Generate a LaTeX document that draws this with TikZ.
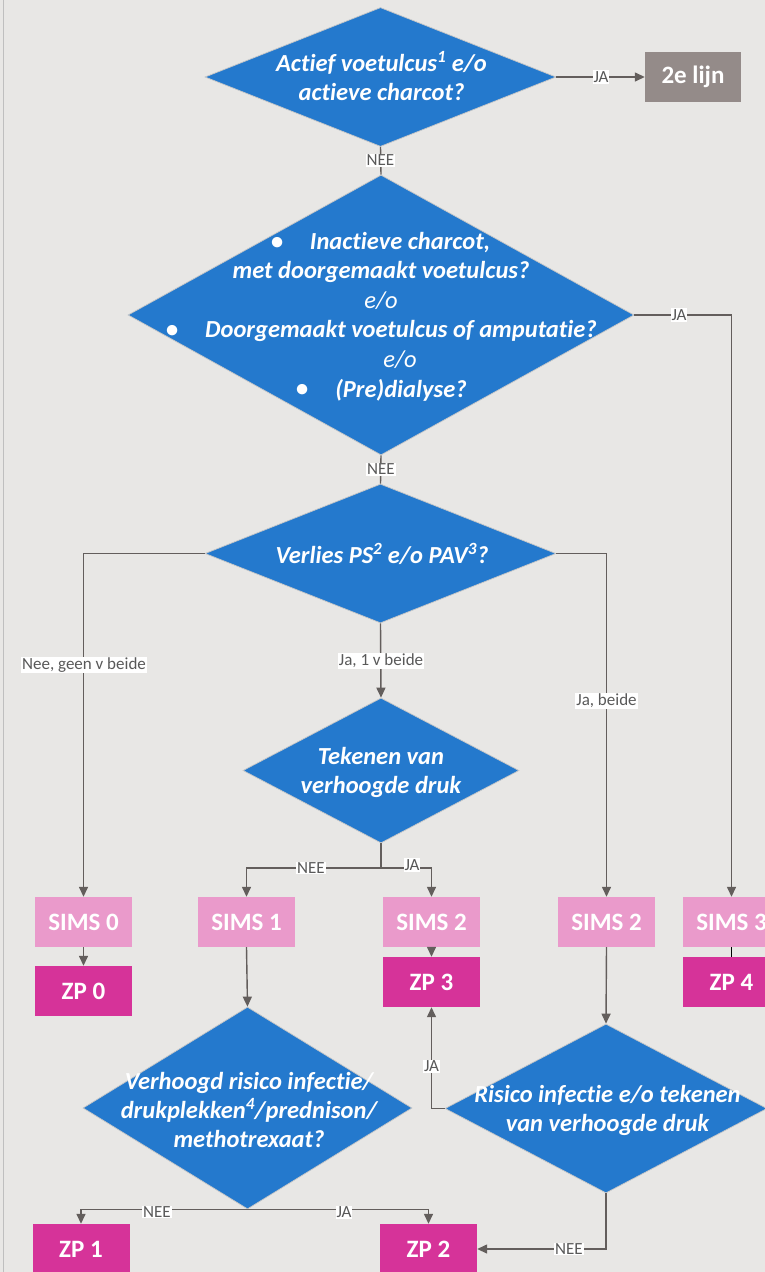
\documentclass[tikz,border=0pt]{standalone}
\usepackage{fontspec}
\setmainfont{Carlito}[Ligatures={NoCommon}]
\usetikzlibrary{arrows.meta,shapes.geometric}
\definecolor{bgc}{HTML}{E8E7E5}
\definecolor{diablue}{HTML}{2479CD}
\definecolor{simspink}{HTML}{EA9ACB}
\definecolor{zpmag}{HTML}{D63399}
\definecolor{lijngray}{HTML}{948B89}
\definecolor{linec}{HTML}{635E5C}
\definecolor{lblc}{HTML}{595959}
\tikzset{
  dia/.style={diamond, fill=diablue, draw=black!22, line width=0.7pt, inner sep=0pt, aspect=1},
  dtext/.style={text=white, font=\fontsize{24.5}{29}\selectfont\bfseries\itshape, align=center, inner sep=0pt},
  dplain/.style={text=white, font=\fontsize{24.5}{29}\selectfont\itshape, inner sep=0pt},
  simsbox/.style={rectangle, fill=simspink, minimum width=97, minimum height=50, text=white, font=\fontsize{25}{28}\selectfont\bfseries},
  zpbox/.style={rectangle, fill=zpmag, minimum width=97, minimum height=50, text=white, font=\fontsize{25}{28}\selectfont\bfseries},
  conn/.style={draw=linec, line width=1.4pt, -{Triangle[length=10pt,width=9pt]}},
  plain/.style={draw=linec, line width=1.4pt},
  lbl/.style={fill=white, text=lblc, font=\fontsize{17}{18}\selectfont, inner sep=1pt},
}
\begin{document}
\begin{tikzpicture}[x=1pt,y=-1pt]
\useasboundingbox (0,0) rectangle (765,1272);
\fill[bgc] (0,0) rectangle (765,1272);
\draw[black!25, line width=1pt] (3.5,0) -- (3.5,1272);

% diamonds
\node[dia, minimum width=351, minimum height=139] (d1) at (380.5,77) {};
\node[dtext] (t1) at (381.5,76) {Actief voetulcus\textsuperscript{1} e/o\\actieve charcot?};

\node[rectangle, fill=lijngray, minimum width=96, minimum height=50, text=white, font=\fontsize{25}{28}\selectfont\bfseries] (lijn) at (693,77) {2e lijn};

\node[dia, minimum width=506, minimum height=280] (d2) at (381,315) {};
\node[dtext] (b1) at (277,243) {\textbullet};
\node[dtext] (t2a) at (400,243) {Inactieve charcot,};
\node[dtext] (t2b) at (381,272) {met doorgemaakt voetulcus?};
\node[dplain] (t2c) at (381,301) {e/o};
\node[dtext] (b2) at (172,331) {\textbullet};
\node[dtext] (t2d) at (401,331) {Doorgemaakt voetulcus of amputatie?};
\node[dplain] (t2e) at (400,360) {e/o};
\node[dtext] (b3) at (302,390) {\textbullet};
\node[dtext] (t2f) at (401,390) {(Pre)dialyse?};

\node[dia, minimum width=351, minimum height=139] (d3) at (380.5,553.5) {};
\node[dtext] (t3) at (382,553.5) {Verlies PS\textsuperscript{2} e/o PAV\textsuperscript{3}?};

\node[dia, minimum width=276, minimum height=145] (d4) at (381,770.5) {};
\node[dtext] (t4) at (381,772) {Tekenen van\\verhoogde druk};

\node[dia, minimum width=329, minimum height=202] (d5) at (247.5,1108) {};
\node[dtext] (t5) at (249,1110) {Verhoogd risico infectie/\\drukplekken\textsuperscript{4}/prednison/\\methotrexaat?};

\node[dia, minimum width=322, minimum height=169] (d6) at (606,1108.5) {};
\node[dtext] (t6) at (607.5,1110) {Risico infectie e/o tekenen\\van verhoogde druk};

% boxes
\node[simsbox] (sims0) at (83.5,922) {SIMS 0};
\node[simsbox] (sims1) at (246.5,922) {SIMS 1};
\node[simsbox] (sims2a) at (431.5,922) {SIMS 2};
\node[simsbox] (sims2b) at (606.5,922) {SIMS 2};
\node[simsbox] (sims3) at (731.5,922) {SIMS 3};
\node[zpbox] (zp0) at (83.5,991) {ZP 0};
\node[zpbox] (zp3) at (431.5,982) {ZP 3};
\node[zpbox] (zp4) at (731.5,982) {ZP 4};
\node[zpbox] (zp1) at (81,1249) {ZP 1};
\node[zpbox] (zp2) at (428.5,1249) {ZP 2};

\coordinate (j4) at (381,868);

% connectors
\draw[conn] (d1.east) -- (lijn.west);
\draw[plain] (d1.south) -- (d2.north);
\draw[conn] (d2.east) -| (sims3.north);
\draw[plain] (d2.south) -- (d3.north);
\draw[conn] (d3.west) -| (sims0.north);
\draw[conn] (d3.south) -- (d4.north);
\draw[conn] (d3.east) -| (sims2b.north);
\draw[plain] (d4.south) -- (j4);
\draw[conn] (j4) -| (sims1.north);
\draw[conn] (j4) -| (sims2a.north);
\draw[conn] (sims0.south) -- (zp0.north);
\draw[conn] (sims2a.south) -- (zp3.north);
\draw[black, line width=1.4pt] (sims3.south) -- (zp4.north);
\draw[conn] (sims1.south) -- (d5.north);
\draw[conn] (sims2b.south) -- (d6.north);
\draw[conn] (d6.west) -| (zp3.south);
\draw[conn] (d5.south) -| (zp1.north);
\draw[conn] (d5.south) -| (zp2.north);
\draw[conn] (d6.south) |- (zp2.east);

% labels
\node[lbl] (l1) at (601,77) {JA};
\node[lbl] (l2) at (380.5,160.5) {NEE};
\node[lbl] (l3) at (679,315) {JA};
\node[lbl] (l4) at (381,469.5) {NEE};
\node[lbl] (l5) at (84,665) {Nee, geen v beide};
\node[lbl] (l6) at (381,661) {Ja, 1 v beide};
\node[lbl] (l7) at (606.5,701) {Ja, beide};
\node[lbl] (l8) at (311,868) {NEE};
\node[lbl] (l9) at (412,865) {JA};
\node[lbl] (l10) at (431.5,1066) {JA};
\node[lbl] (l11) at (157,1212) {NEE};
\node[lbl] (l12) at (344,1212) {JA};
\node[lbl] (l13) at (569,1249) {NEE};
\end{tikzpicture}
\end{document}
